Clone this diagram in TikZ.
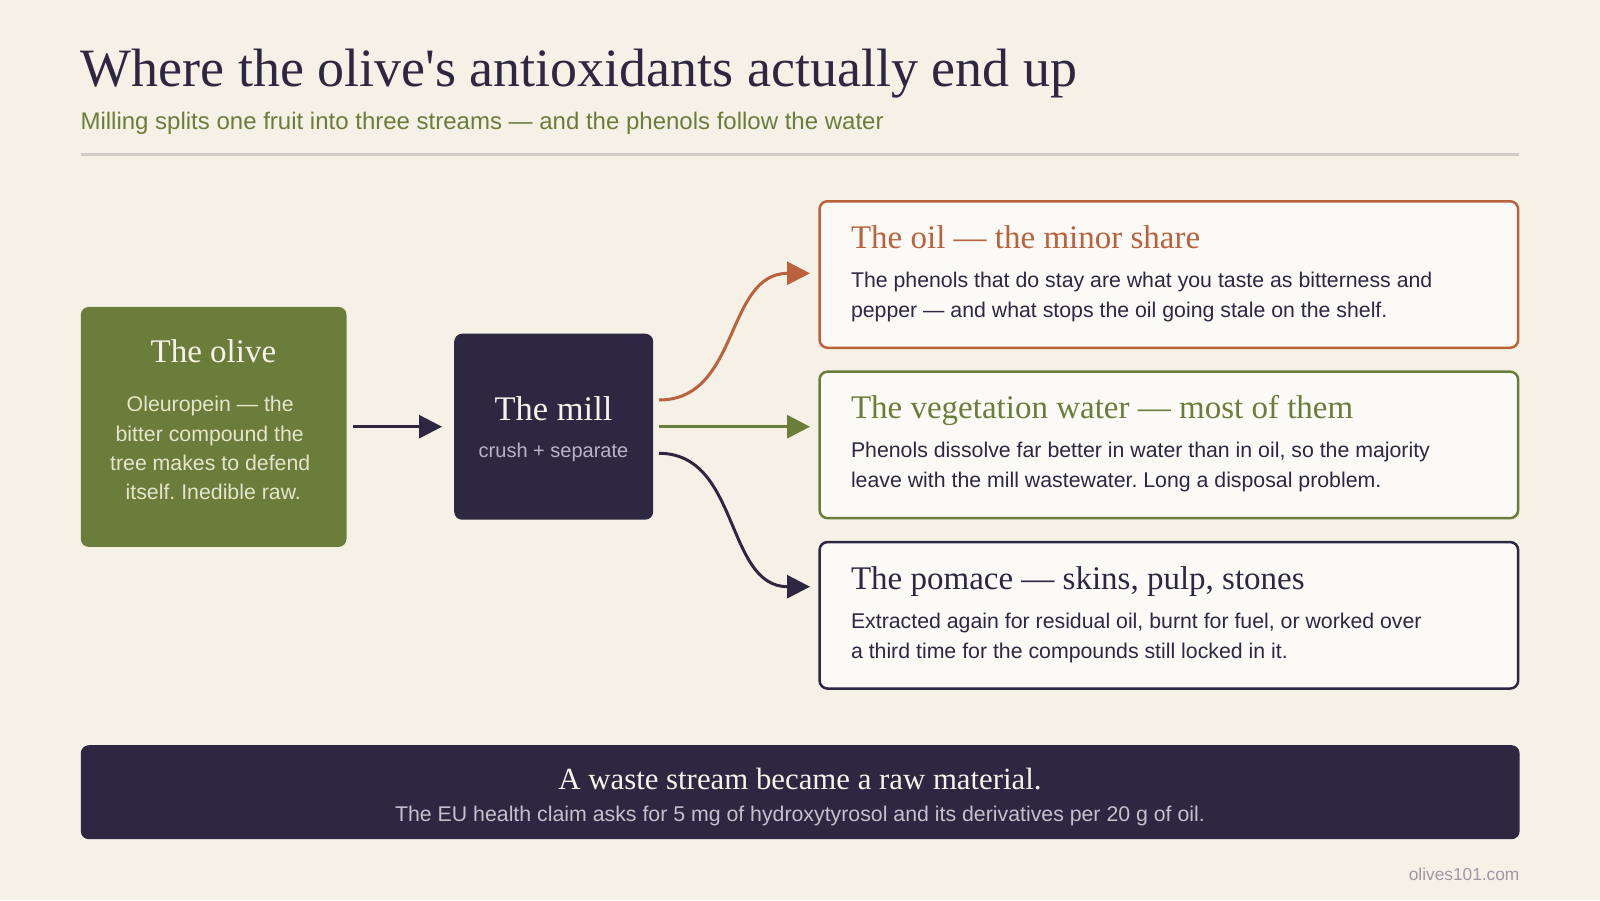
\documentclass[tikz,border=0pt]{standalone}
\usepackage{fontspec}
\setmainfont{Liberation Serif}
\setsansfont{Liberation Sans}
\usetikzlibrary{arrows.meta}
\frenchspacing
\definecolor{bg}{HTML}{F5F1E7}
\definecolor{olivegreen}{HTML}{6B7D3A}
\definecolor{ink}{HTML}{2D2741}
\definecolor{rust}{HTML}{B9623B}
\definecolor{cardfill}{HTML}{FBFAF6}
\definecolor{rulegray}{HTML}{D0CDC8}
\definecolor{creamtext}{HTML}{E6E4CC}
\definecolor{lighttext}{HTML}{F7F3EA}
\definecolor{mutedtext}{HTML}{B8B3C6}
\definecolor{footsub}{HTML}{C4C0CC}
\definecolor{sitegray}{HTML}{9C99A2}
\tikzset{
  txt/.style={inner sep=0pt, outer sep=0pt},
  fs/.style={font=\fontsize{#1}{#1}\selectfont},
  ss/.style={font=\sffamily\fontsize{#1}{#1}\selectfont},
  solidbox/.style={inner sep=0pt, rounded corners=8pt, anchor=north west},
  card/.style={inner sep=0pt, rounded corners=8pt, anchor=north west, fill=cardfill, line width=2.5pt, minimum width=698.6pt, minimum height=146.5pt},
  flow/.style={line width=3pt, -{Triangle[length=23pt,width=23pt]}},
}
\begin{document}
\begin{tikzpicture}[x=1pt,y=-1pt]
\useasboundingbox[fill=bg] (0,0) rectangle (1600,900);

% header
\node[txt, fs=54, text=ink, anchor=base west] (title) at (80.6,86.7) {Where the olive\textquotesingle s antioxidants actually end up};
\node[txt, ss=24, text=olivegreen, anchor=base west] (subtitle) at (80.6,129.3) {Milling splits one fruit into three streams — and the phenols follow the water};
\draw[rulegray, line width=2.7pt] (80.6,154.3) -- (1519.4,154.3);

% olive
\node[solidbox, fill=olivegreen, minimum width=265.7pt, minimum height=240pt] (olive) at (80.6,306.7) {};
\node[txt, fs=33, text=lighttext, anchor=base] (olivet) at (213.4,362) {The olive};
\node[txt, ss=21.3, text=creamtext, anchor=base] (oliveb) at (210.2,411.5) {Oleuropein — the};
\node[txt, ss=21.3, text=creamtext, anchor=base] (oliveb2) at (209.7,441) {bitter compound the};
\node[txt, ss=21.3, text=creamtext, anchor=base] (oliveb3) at (210.2,470.4) {tree makes to defend};
\node[txt, ss=21.3, text=creamtext, anchor=base] (oliveb4) at (213.3,499.8) {itself. Inedible raw.};

% mill
\node[solidbox, fill=ink, minimum width=199pt, minimum height=186pt] (mill) at (454,333.5) {};
\node[txt, fs=34.5, text=lighttext, anchor=base] (millt) at (553.5,420) {The mill};
\node[txt, ss=20, text=mutedtext, anchor=base] (mills) at (553.5,457.5) {crush + separate};

% cards
\node[card, draw=rust] (oil) at (818.3,200) {};
\node[txt, fs=33, text=rust, anchor=base west] (oilt) at (851,248.3) {The oil — the minor share};
\node[txt, ss=21.3, text=ink, anchor=base west] (oilb1) at (851,287.3) {The phenols that do stay are what you taste as bitterness and};
\node[txt, ss=21.3, text=ink, anchor=base west] (oilb2) at (851,317.3) {pepper — and what stops the oil going stale on the shelf.};

\node[card, draw=olivegreen] (veg) at (818.3,370.4) {};
\node[txt, fs=33, text=olivegreen, anchor=base west] (vegt) at (851,418.7) {The vegetation water — most of them};
\node[txt, ss=21.3, text=ink, anchor=base west] (vegb1) at (851,457.7) {Phenols dissolve far better in water than in oil, so the majority};
\node[txt, ss=21.3, text=ink, anchor=base west] (vegb2) at (851,487.7) {leave with the mill wastewater. Long a disposal problem.};

\node[card, draw=ink] (pom) at (818.3,540.8) {};
\node[txt, fs=33, text=ink, anchor=base west] (pomt) at (851,589.1) {The pomace — skins, pulp, stones};
\node[txt, ss=21.3, text=ink, anchor=base west] (pomb1) at (851,628.1) {Extracted again for residual oil, burnt for fuel, or worked over};
\node[txt, ss=21.3, text=ink, anchor=base west] (pomb2) at (851,658.1) {a third time for the compounds still locked in it.};

% connectors
\coordinate (o1) at (353,426.7);
\coordinate (m0) at (442,426.7);
\draw[flow, ink] (o1) -- (m0);
\coordinate (s1) at (659,400);
\coordinate (s2) at (659,426.7);
\coordinate (s3) at (659,453.3);
\coordinate (e1) at (810,273.3);
\coordinate (e2) at (810,426.7);
\coordinate (e3) at (810,586.7);
\draw[flow, rust] (s1) .. controls (740,400) and (725,273.3) .. (e1);
\draw[flow, olivegreen] (s2) -- (e2);
\draw[flow, ink] (s3) .. controls (740,453.3) and (725,586.7) .. (e3);

% footer
\node[solidbox, fill=ink, minimum width=1438.8pt, minimum height=94pt] (foot) at (80.6,745) {};
\node[txt, fs=30.8, text=lighttext, anchor=base] (foott) at (800,789.3) {A waste stream became a raw material.};
\node[txt, ss=21.3, text=footsub, anchor=base] (foots) at (800,821.7) {The EU health claim asks for 5 mg of hydroxytyrosol and its derivatives per 20 g of oil.};
\node[txt, ss=17.3, text=sitegray, anchor=base east] (site) at (1519.4,880) {olives101.com};
\end{tikzpicture}
\end{document}
